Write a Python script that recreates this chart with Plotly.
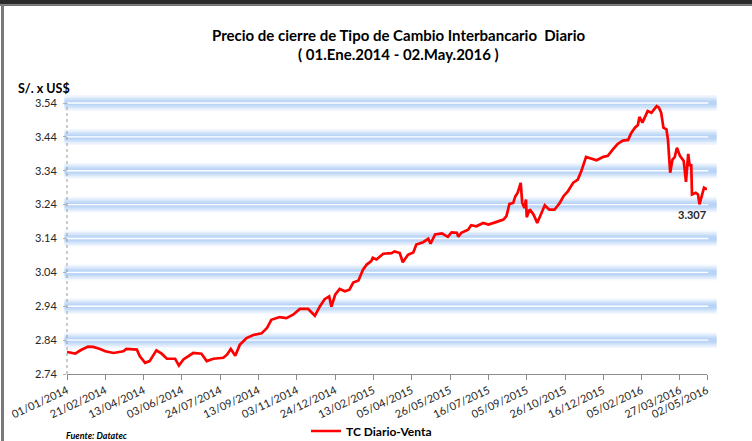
import plotly.graph_objects as go

# ---------------- data ----------------
dates = [
    "2014-01-01","2014-01-12","2014-01-19","2014-01-29","2014-02-05","2014-02-14","2014-02-21",
    "2014-03-04","2014-03-17","2014-03-21","2014-04-04","2014-04-08","2014-04-15","2014-04-21","2014-04-30",
    "2014-05-07","2014-05-14","2014-05-25","2014-05-30","2014-06-05","2014-06-18","2014-06-29",
    "2014-07-06","2014-07-15","2014-07-28","2014-08-02","2014-08-07","2014-08-13","2014-08-19","2014-08-28",
    "2014-09-06","2014-09-17","2014-09-24","2014-09-30","2014-10-11","2014-10-20","2014-10-29",
    "2014-11-07","2014-11-18","2014-11-27","2014-12-04","2014-12-10","2014-12-16","2014-12-19","2014-12-24","2014-12-30",
    "2015-01-06","2015-01-12","2015-01-17","2015-01-24","2015-01-30","2015-02-04","2015-02-10","2015-02-12","2015-02-17","2015-02-26",
    "2015-03-09","2015-03-13","2015-03-20","2015-03-24","2015-03-31","2015-04-07","2015-04-11","2015-04-20","2015-04-27","2015-04-30",
    "2015-05-06","2015-05-15","2015-05-23","2015-05-28","2015-06-04","2015-06-06","2015-06-10","2015-06-19","2015-06-23","2015-06-30",
    "2015-07-09","2015-07-16","2015-07-27","2015-08-05","2015-08-09","2015-08-13","2015-08-18","2015-08-21","2015-08-24","2015-08-28","2015-08-30",
    "2015-09-02","2015-09-04","2015-09-05","2015-09-09","2015-09-14","2015-09-19","2015-09-25","2015-09-29","2015-10-05","2015-10-12","2015-10-19","2015-10-24","2015-10-30",
    "2015-11-06","2015-11-12","2015-11-17","2015-11-23","2015-11-30","2015-12-07","2015-12-16","2015-12-22","2015-12-29",
    "2016-01-04","2016-01-11","2016-01-18","2016-01-22","2016-01-27","2016-01-31",
    "2016-02-02","2016-02-06","2016-02-10","2016-02-13","2016-02-18","2016-02-25","2016-02-28",
    "2016-03-02","2016-03-05","2016-03-09","2016-03-11","2016-03-14","2016-03-17","2016-03-20","2016-03-23","2016-03-27",
    "2016-04-01","2016-04-04","2016-04-07","2016-04-09","2016-04-11","2016-04-12","2016-04-17","2016-04-20","2016-04-22","2016-04-26","2016-04-28","2016-05-02",
]
tc_venta = [
    2.805,2.800,2.810,2.821,2.820,2.814,2.807,
    2.802,2.807,2.814,2.812,2.792,2.773,2.778,2.810,
    2.800,2.785,2.785,2.765,2.783,2.802,2.800,
    2.778,2.785,2.788,2.797,2.814,2.794,2.826,2.846,
    2.855,2.860,2.875,2.900,2.908,2.905,2.915,
    2.932,2.932,2.912,2.941,2.961,2.969,2.939,2.974,2.991,
    2.984,2.989,3.010,3.016,3.048,3.063,3.073,3.083,3.078,3.095,
    3.097,3.102,3.097,3.070,3.092,3.099,3.122,3.129,3.139,3.125,
    3.152,3.155,3.145,3.158,3.157,3.145,3.157,3.166,3.179,3.176,
    3.186,3.181,3.189,3.196,3.206,3.242,3.245,3.265,3.275,3.304,3.245,
    3.230,3.255,3.203,3.226,3.211,3.186,3.220,3.238,3.225,3.225,3.245,3.265,3.280,
    3.305,3.314,3.341,3.381,3.377,3.371,3.381,3.384,3.404,
    3.419,3.429,3.431,3.451,3.467,3.475,
    3.499,3.482,3.504,3.516,3.511,3.531,3.526,
    3.511,3.467,3.462,3.432,3.334,3.373,3.380,3.408,3.384,
    3.369,3.307,3.390,3.354,3.359,3.270,3.275,3.270,3.241,3.275,3.290,3.285,
]
x_tick_dates = ["2014-01-01","2014-02-21","2014-04-13","2014-06-03","2014-07-24","2014-09-13",
                "2014-11-03","2014-12-24","2015-02-13","2015-04-05","2015-05-26","2015-07-16",
                "2015-09-05","2015-10-26","2015-12-16","2016-02-05","2016-03-27","2016-05-02"]
x_tick_labels = ["01/01/2014","21/02/2014","13/04/2014","03/06/2014","24/07/2014","13/09/2014",
                 "03/11/2014","24/12/2014","13/02/2015","05/04/2015","26/05/2015","16/07/2015",
                 "05/09/2015","26/10/2015","16/12/2015","05/02/2016","27/03/2016","02/05/2016"]
y_ticks = [2.74, 2.84, 2.94, 3.04, 3.14, 3.24, 3.34, 3.44, 3.54]
y_tick_labels = ["2.74", "2.84", "2.94", "3.04", "3.14", "3.24", "3.34", "3.44", "3.54"]
series_name = "TC Diario-Venta"
last_label = "3.307"
title_1 = "Precio de cierre de Tipo de Cambio Interbancario  Diario"
title_2 = "( 01.Ene.2014 - 02.May.2016 )"
y_title = "S/. x US$"
source = "Fuente: Datatec"

# ---------------- layout geometry ----------------
W, H = 752, 441
ML, MR, MT, MB = 67, 45, 103, 67
PW, PH = W - ML - MR, H - MT - MB
YMIN, YMAX = y_ticks[0], y_ticks[-1]

def px_x(px):
    return (px - ML) / PW

def px_y(py):
    return (H - MB - py) / PH

FONT = "Lato"
TXT = "#262626"

fig = go.Figure()
fig.add_trace(go.Scatter(
    x=dates, y=tc_venta, mode="lines", name="<b>" + series_name + "</b>",
    line=dict(color="#ff0000", width=2.7),
))

shapes = []
# glowing horizontal gridlines
glow = [(16, 0.12), (13, 0.17), (10, 0.24), (7, 0.3), (4, 0.3)]
for v in y_ticks[1:]:
    yd = (v - YMIN) / (YMAX - YMIN)
    for w, a in glow:
        shapes.append(dict(type="line", xref="x domain", yref="y domain",
                           x0=-0.004, x1=1.015, y0=yd, y1=yd, layer="below",
                           line=dict(color="rgba(158,195,245,%.2f)" % a, width=w)))
    shapes.append(dict(type="line", xref="x domain", yref="y domain",
                       x0=0.0, x1=1.002, y0=yd, y1=yd, layer="below",
                       line=dict(color="#ffffff", width=1.3)))
# dotted left axis
shapes.append(dict(type="line", xref="x domain", yref="y domain", x0=0, x1=0, y0=0, y1=1,
                   line=dict(color="#9a9a9a", width=1, dash="dot")))
# window frame: dark top band and grey left border
shapes.append(dict(type="rect", xref="paper", yref="paper", x0=px_x(0), x1=px_x(W),
                   y0=px_y(4.5), y1=px_y(-2), fillcolor="#2b2b2b", line=dict(width=0)))
shapes.append(dict(type="rect", xref="paper", yref="paper", x0=px_x(0), x1=px_x(W),
                   y0=px_y(6), y1=px_y(4.5), fillcolor="#707070", line=dict(width=0)))
shapes.append(dict(type="rect", xref="paper", yref="paper", x0=px_x(1), x1=px_x(4),
                   y0=px_y(H + 2), y1=px_y(5), fillcolor="#7a7a7a", line=dict(width=0)))

annotations = [
    dict(text="<b>" + title_1 + "</b>", xref="paper", yref="paper", x=px_x(398), y=px_y(35),
         showarrow=False, font=dict(family=FONT, size=15, color="#000000"), xanchor="center", yanchor="middle"),
    dict(text="<b>" + title_2 + "</b>", xref="paper", yref="paper", x=px_x(398), y=px_y(54),
         showarrow=False, font=dict(family=FONT, size=15, color="#000000"), xanchor="center", yanchor="middle"),
    dict(text="<b>" + y_title + "</b>", xref="paper", yref="paper", x=px_x(16), y=px_y(88),
         showarrow=False, font=dict(family=FONT, size=12.5, color="#000000"), xanchor="left", yanchor="middle"),
    dict(text="<b>" + last_label + "</b>", xref="paper", yref="paper", x=px_x(708), y=px_y(214),
         showarrow=False, font=dict(family=FONT, size=11, color=TXT), xanchor="right", yanchor="middle"),
    dict(text="<b><i>" + source + "</i></b>", xref="paper", yref="paper", x=px_x(64), y=px_y(435),
         showarrow=False, font=dict(family=FONT, size=9, color="#000000"), xanchor="left", yanchor="middle"),
]

fig.update_layout(
    width=W, height=H,
    margin=dict(l=ML, r=MR, t=MT, b=MB, autoexpand=False),
    paper_bgcolor="#ffffff", plot_bgcolor="#ffffff",
    font=dict(family=FONT, size=11, color=TXT),
    showlegend=True,
    legend=dict(orientation="h", x=px_x(306), y=px_y(431), xanchor="left", yanchor="middle",
                font=dict(family=FONT, size=12, color="#000000"), bgcolor="rgba(0,0,0,0)",
                itemwidth=30),
    shapes=shapes,
    annotations=annotations,
)
fig.update_xaxes(
    type="date", range=[x_tick_dates[0], x_tick_dates[-1]],
    tickmode="array", tickvals=x_tick_dates, ticktext=x_tick_labels,
    tickangle=-25, tickfont=dict(family=FONT, size=11, color=TXT),
    showgrid=False, zeroline=False,
    showline=True, linecolor="#8c8c8c", linewidth=1,
    ticks="outside", ticklen=5, tickcolor="#8c8c8c",
)
fig.update_yaxes(
    range=[YMIN, YMAX], tickmode="array", tickvals=y_ticks, ticktext=y_tick_labels,
    tickfont=dict(family=FONT, size=11, color=TXT),
    showgrid=False, zeroline=False, showline=False,
    ticks="outside", ticklen=3, tickcolor="#b0b0b0", ticklabelstandoff=4,
)

fig.write_html("out.html", config={"displayModeBar": False},
               post_script="document.body.style.margin='0';document.body.style.overflow='hidden';")
